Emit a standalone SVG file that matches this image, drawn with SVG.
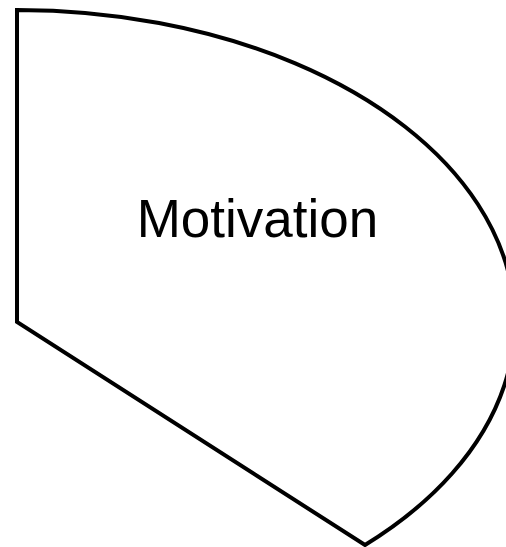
<svg xmlns="http://www.w3.org/2000/svg" width="506" height="547" viewBox="0 0 506 547">
<style>
.shape{fill:#fff;stroke:#000;stroke-width:4;stroke-linejoin:miter}
.lbl{font-family:"Liberation Sans",Arial,sans-serif;font-size:53px;fill:#000;text-anchor:middle}
</style>
<rect width="506" height="547" fill="#fff"/>
<g id="motivation">
<path class="shape" d="M17,10 L17,322 L365,545 A498,312 0 0 0 17,10 Z"/>
<text class="lbl" x="257.5" y="237">Motivation</text>
</g>
<g id="connectors"/>
</svg>
